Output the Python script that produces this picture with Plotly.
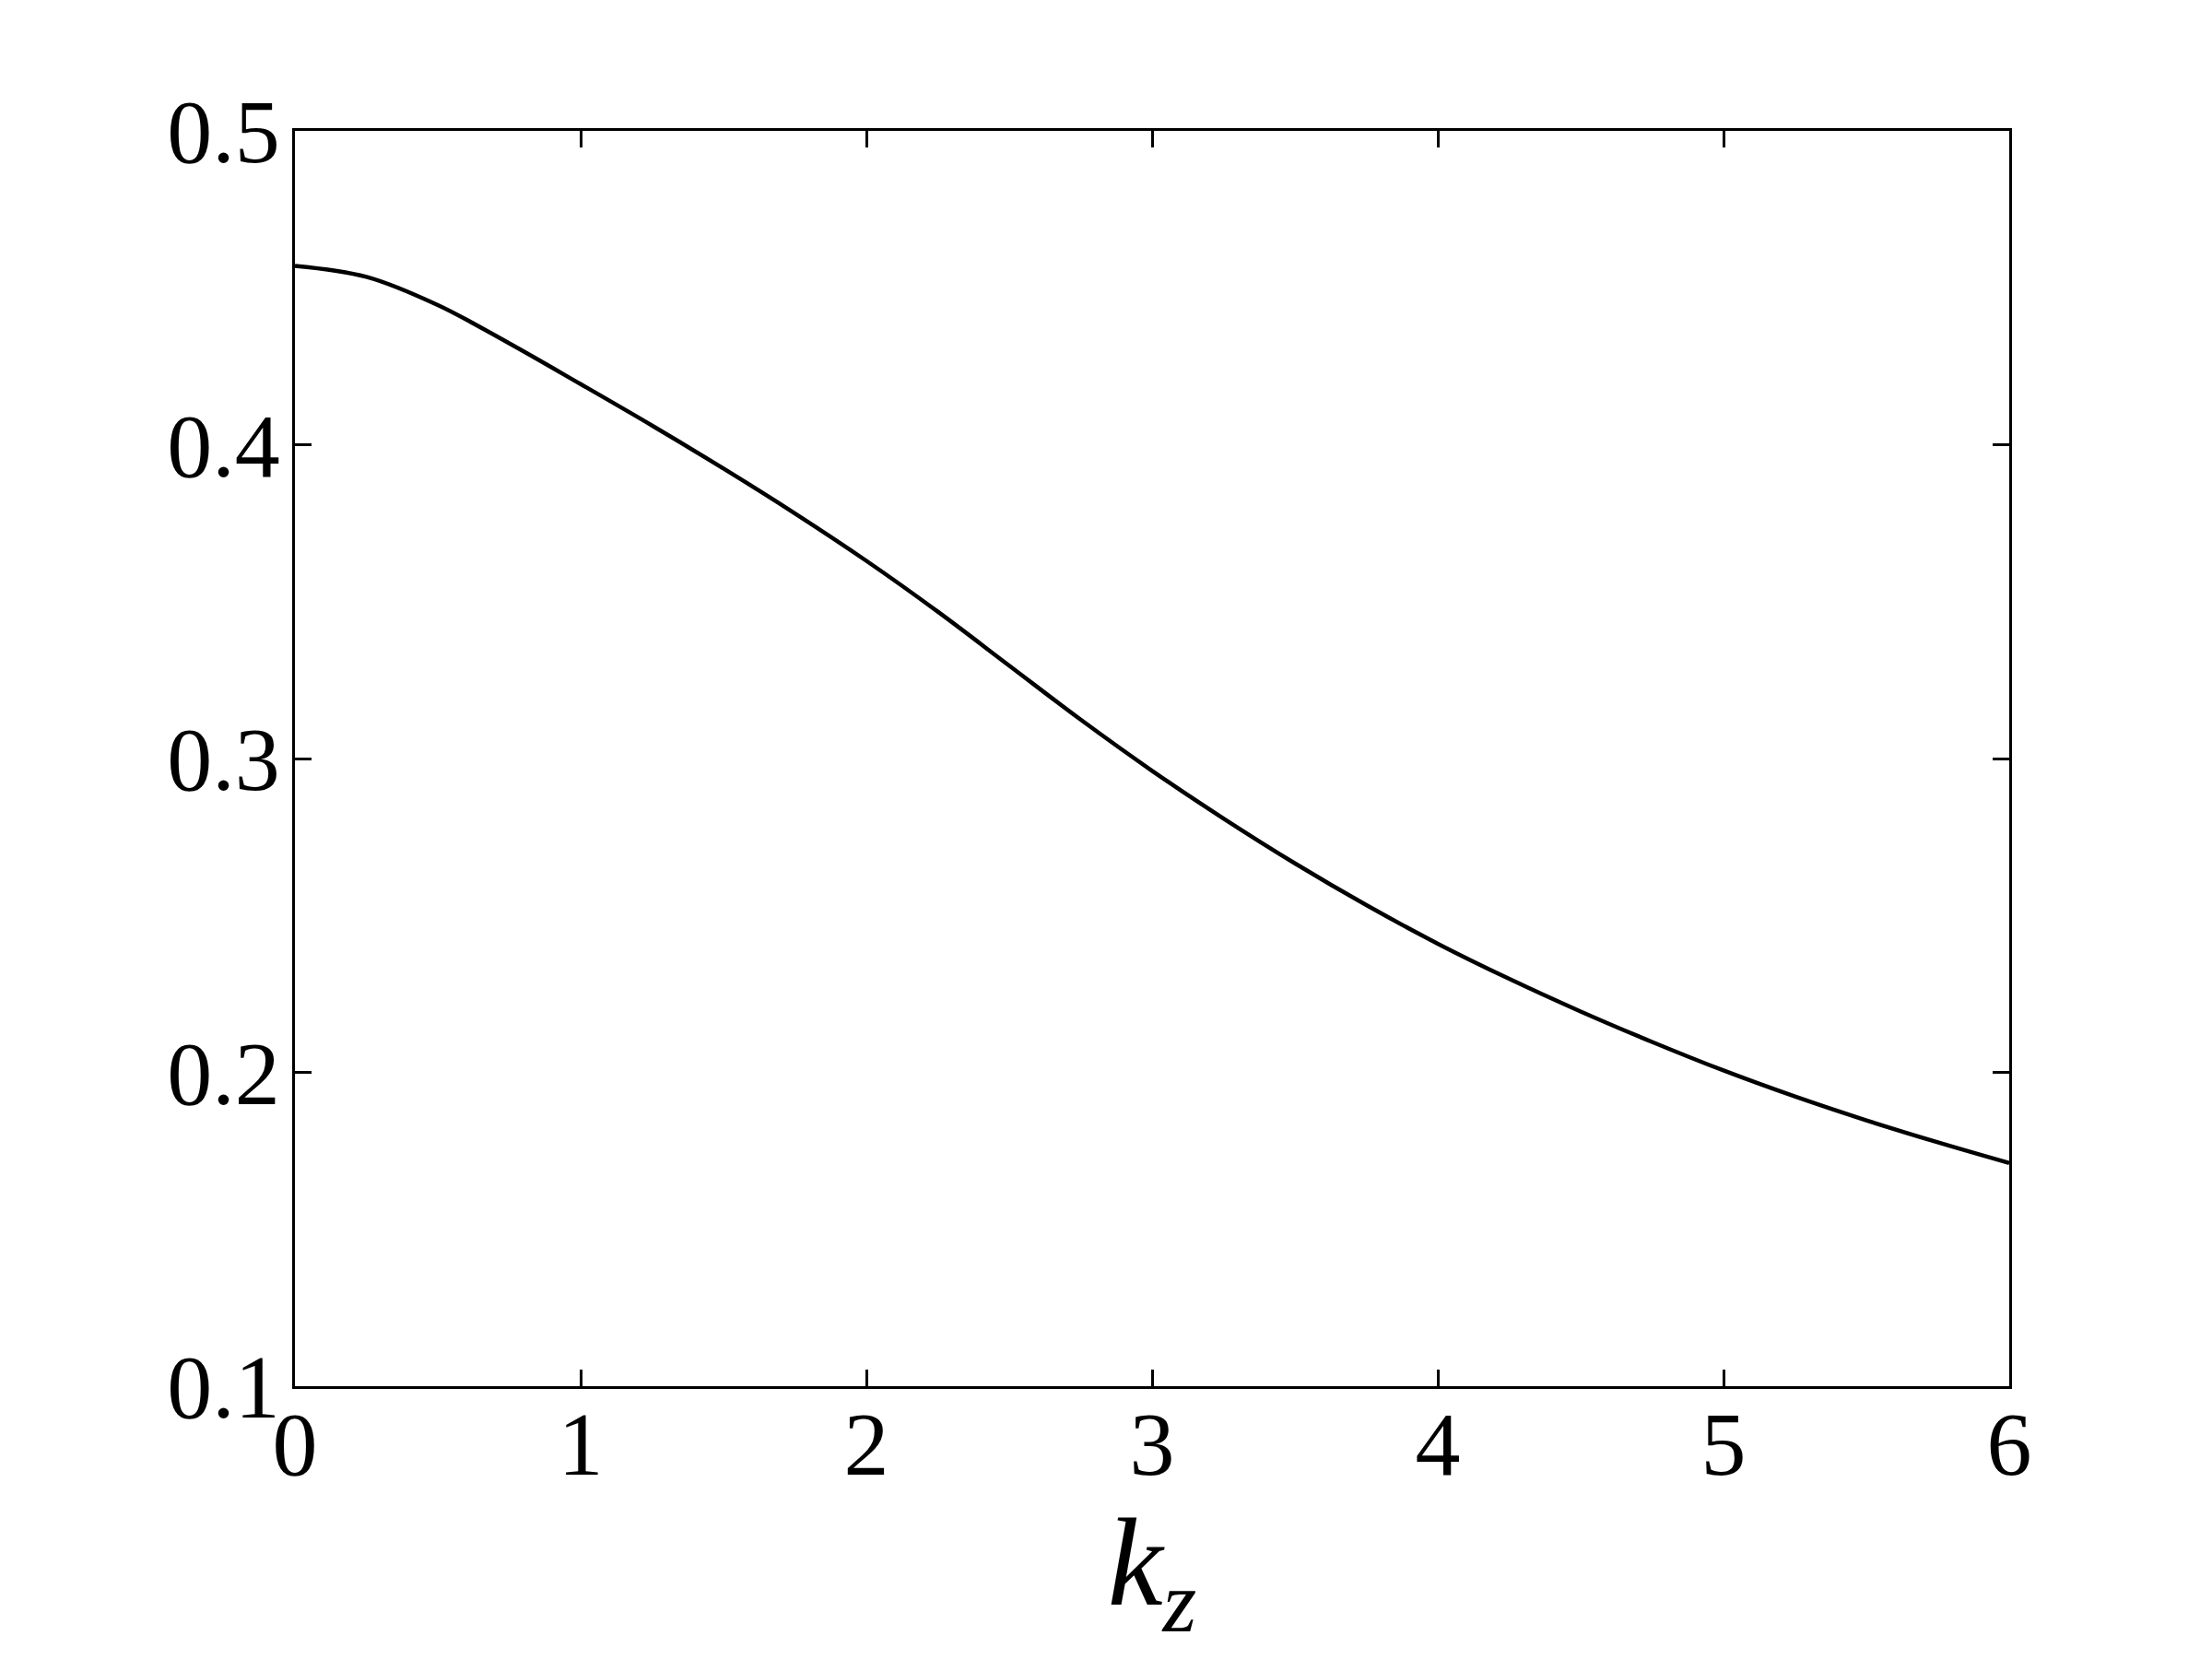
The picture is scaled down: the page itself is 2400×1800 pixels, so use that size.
import plotly.graph_objects as go

# Curve
k_z = [0.0, 0.25, 0.5, 0.75, 1.0, 1.25, 1.5, 1.75, 2.0, 2.25, 2.5, 2.75,
       3.0, 3.25, 3.5, 3.75, 4.0, 4.25, 4.5, 4.75, 5.0, 5.25, 5.5, 5.75, 6.0]
values = [0.457, 0.4535, 0.4445, 0.4323, 0.4193, 0.4061, 0.3924, 0.3781, 0.3630,
          0.3468, 0.3296, 0.3124, 0.2961, 0.2809, 0.2666, 0.2533, 0.2410, 0.2298,
          0.2194, 0.2097, 0.2006, 0.1923, 0.1847, 0.1777, 0.1711]

x_ticks = [0, 1, 2, 3, 4, 5, 6]
y_ticks = [0.1, 0.2, 0.3, 0.4, 0.5]

FONT = "Liberation Serif"

fig = go.Figure(go.Scatter(
    x=k_z, y=values, mode='lines', line_shape='spline',
    line=dict(color='black', width=4.5, smoothing=1), showlegend=False
))

axis_common = dict(
    showgrid=False, zeroline=False, showline=True, linecolor='black', linewidth=2.5,
    mirror='allticks', ticks='inside', ticklen=18, tickwidth=2.5, tickcolor='black',
    automargin=False,
    tickfont=dict(family=FONT, size=98, color='black')
)

fig.update_layout(
    width=2400, height=1800,
    paper_bgcolor='white', plot_bgcolor='white',
    margin=dict(l=312, r=228, t=134, b=304),
    xaxis=dict(range=[0, 6], tickvals=x_ticks, ticktext=[str(v) for v in x_ticks],
               ticklabelstandoff=-24,
               title=dict(text="<i>k</i><sub><i>z</i></sub>", standoff=0,
                          font=dict(family=FONT, size=135, color='black')),
               **axis_common),
    yaxis=dict(range=[0.1, 0.5], tickvals=y_ticks, ticktext=[f"{v:.1f}" for v in y_ticks],
               ticklabelstandoff=-6, **axis_common),
)

fig.write_html("out.html")
